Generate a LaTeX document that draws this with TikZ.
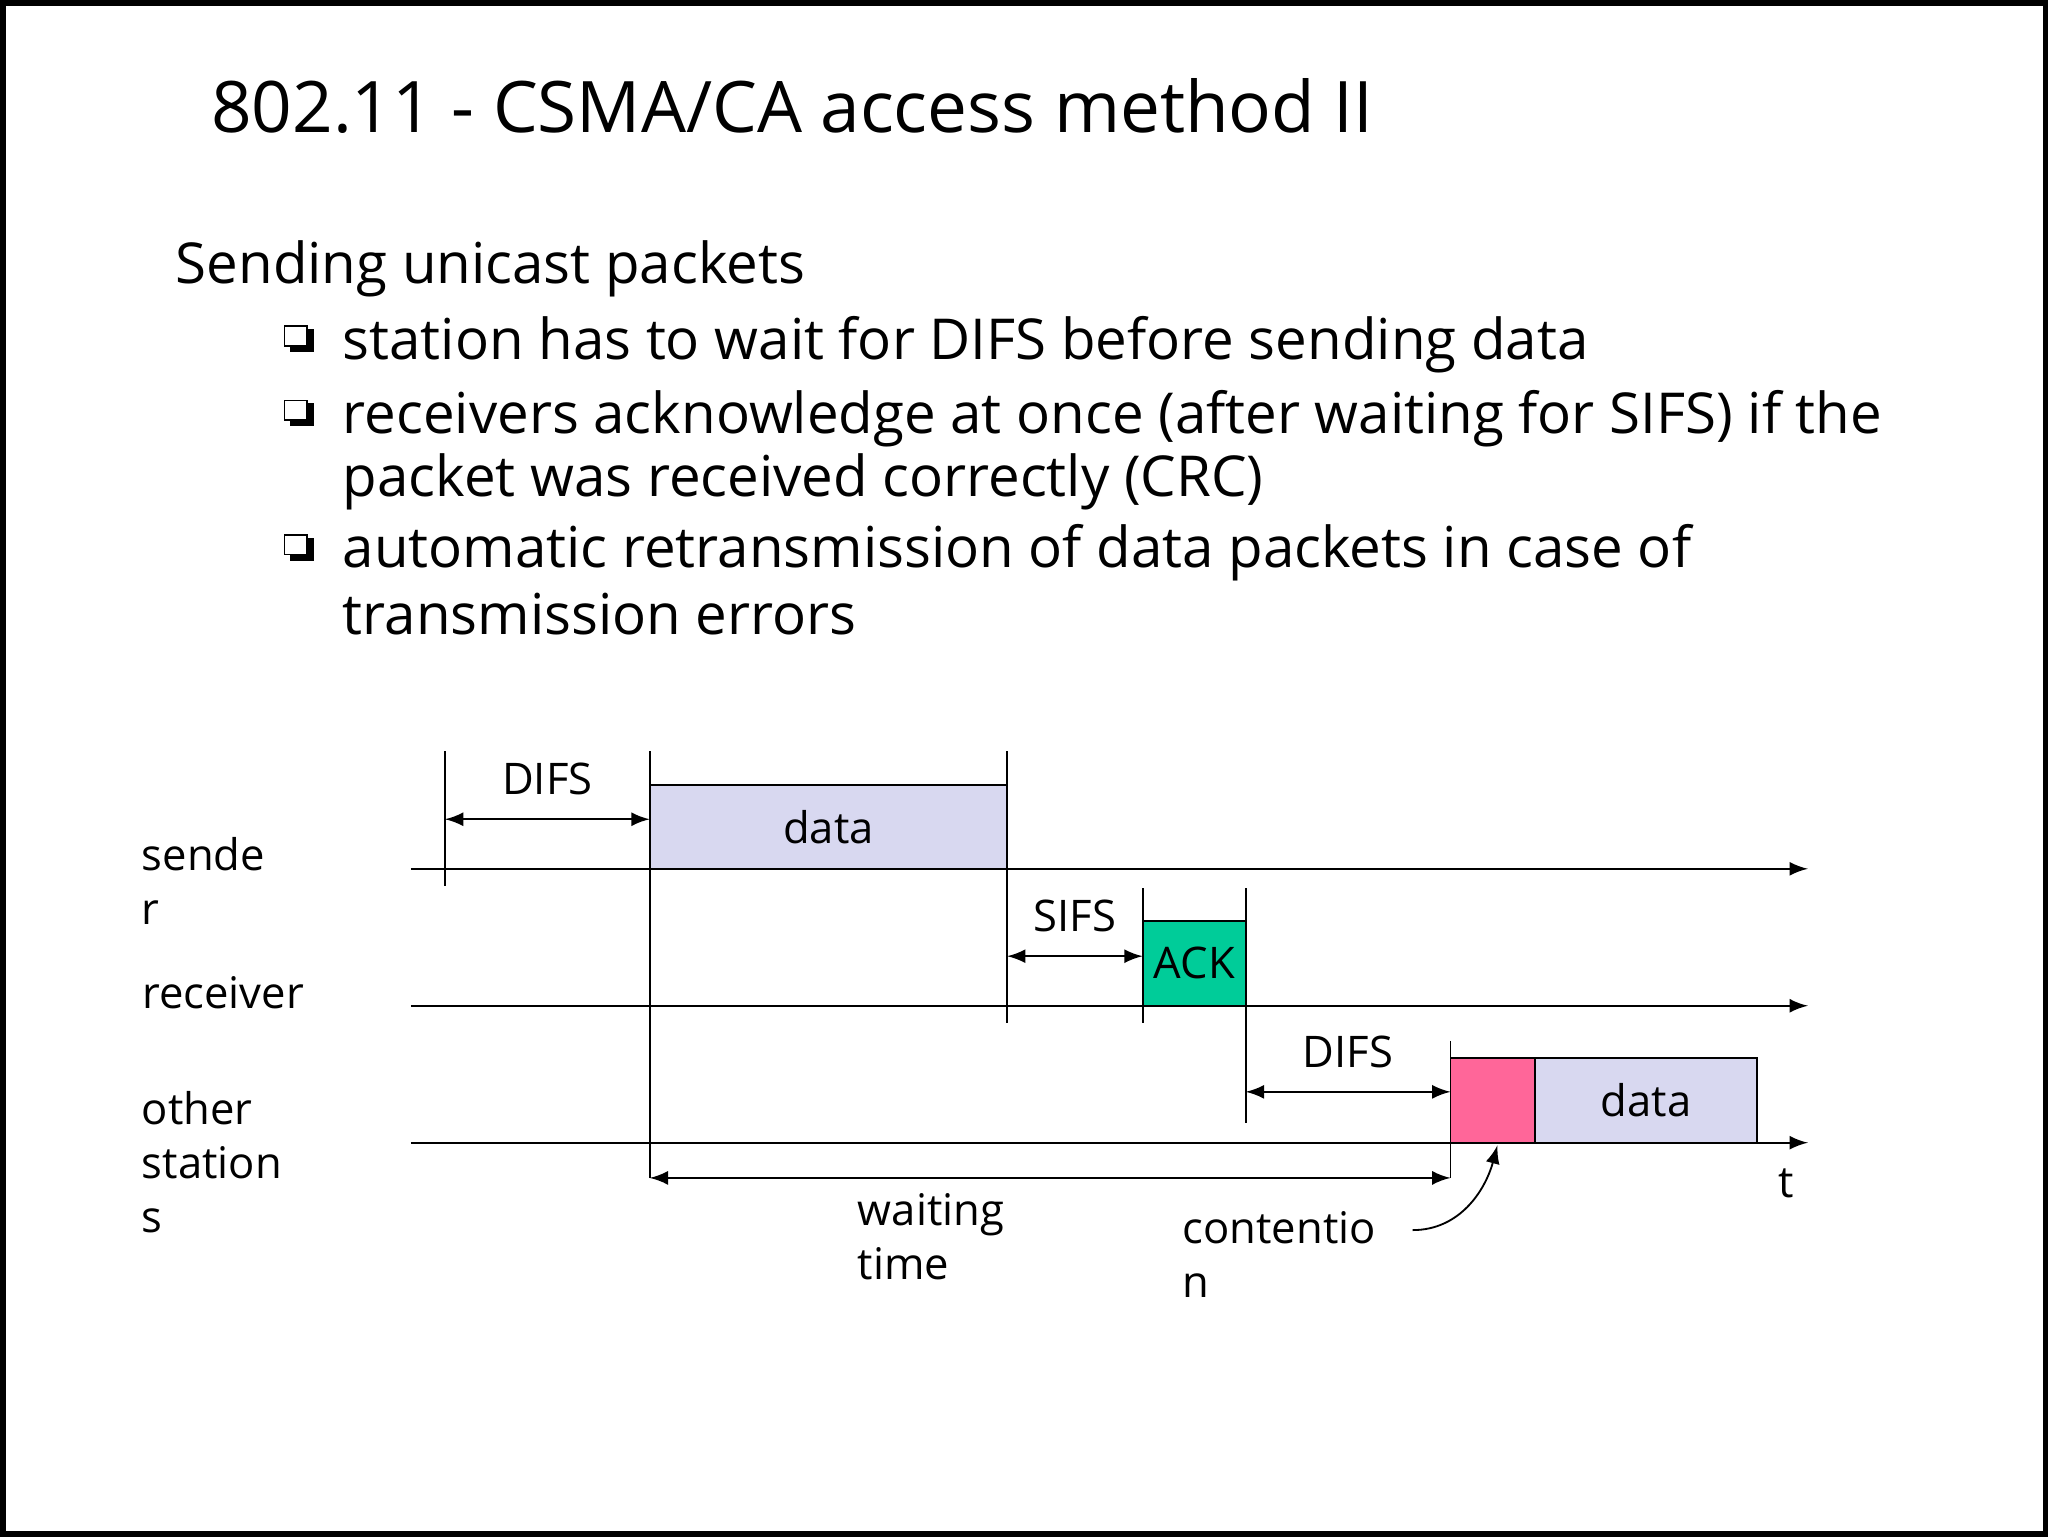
\documentclass[tikz,border=0pt]{standalone}
\usepackage{fontspec}
\setmainfont{Open Sans}
\usetikzlibrary{arrows,positioning}
\definecolor{lav}{RGB}{216,216,240}
\definecolor{ackgreen}{RGB}{0,204,153}
\definecolor{pinkish}{RGB}{255,102,153}
\begin{document}
\begin{tikzpicture}[x=0.01cm,y=-0.01cm,
  txt/.style={font=\fontsize{9.5}{11.8}\selectfont,inner sep=0pt,align=left},
  big/.style={font=\fontsize{12.3}{13.5}\selectfont,inner sep=0pt,anchor=west},
  tick/.style={thin},
  tl/.style={-latex,thin},
  span/.style={latex-latex,thin},
  pkt/.style={draw,thin,fill=lav}]
   \draw[line width=1.2pt] (1,1) rectangle (1567,1175);
   \node[anchor=west,inner sep=0pt,font=\fontsize{15.5}{18}\selectfont] (title) at (160,80) {802.11 - CSMA/CA access method II};
   \node[big] (head) at (133,205) {Sending unicast packets};
   \foreach \y/\t in {263/{station has to wait for DIFS before sending data},
     320/{receivers acknowledge at once (after waiting for SIFS) if the},
     423/{automatic retransmission of data packets in case of}}
     {\draw[fill=white] (217,\y-14) rectangle (234,\y+1);
      \draw[line width=1.5pt] (221,\y+3) -- (237,\y+3) -- (237,\y-12);}
   \node[big] (b1) at (261,263) {station has to wait for DIFS before sending data};
   \node[big] (b2) at (261,320) {receivers acknowledge at once (after waiting for SIFS) if the};
   \node[big] (b2b) at (261,368) {packet was received correctly (CRC)};
   \node[big] (b3) at (261,423) {automatic retransmission of data packets in case of};
   \node[big] (b3b) at (261,470) {transmission errors};
   % time lines
   \coordinate (s0) at (314,665); \coordinate (s1) at (1385,665);
   \coordinate (r0) at (314,770); \coordinate (r1) at (1385,770);
   \coordinate (o0) at (314,875); \coordinate (o1) at (1385,875);
   \draw[tl] (s0) -- (s1);
   \draw[tl] (r0) -- (r1);
   \draw[tl] (o0) -- (o1);
   % ticks
   \draw[tick] (340,575) -- (340,678);
   \draw[tick] (497,575) -- (497,902);
   \draw[tick] (771,575) -- (771,783);
   \draw[tick] (875,680) -- (875,783);
   \draw[tick] (954,680) -- (954,860);
   \draw[tick] (1111,797) -- (1111,902);
   % packets
   \draw[pkt] (497,601) rectangle node[txt] (d1) {data} (771,665);
   \draw[pkt,fill=ackgreen] (875,705) rectangle node[txt] (ack) {ACK} (954,770);
   \draw[pkt,fill=pinkish] (1111,810) rectangle (1176,875);
   \draw[pkt] (1176,810) rectangle node[txt] (d2) {data} (1346,875);
   % spans
   \draw[span] (340,627) -- node[txt,above=5pt] (difs1) {DIFS} (497,627);
   \draw[span] (771,732) -- node[txt,above=5pt] (sifs) {SIFS} (875,732);
   \draw[span] (954,836) -- node[txt,above=5pt] (difs2) {DIFS} (1111,836);
   \draw[span] (497,902) -- (1111,902);
   % labels
   \node[txt,anchor=north west] (snd) at (107,640) {sende\\r};
   \node[txt] (rcv) at (170,760) {receiver};
   \node[txt,anchor=north west] (oth) at (107,835) {other\\station\\s};
   \node[txt] (t) at (1368,906) {t};
   \node[txt,anchor=north west] (wait) at (656,913) {waiting\\time};
   \node[txt,anchor=north west] (cont) at (905,927) {contentio\\n};
   \draw[-latex,thin] (1082,942) to[out=0,in=-105] (1147,877);
\end{tikzpicture}
\end{document}
